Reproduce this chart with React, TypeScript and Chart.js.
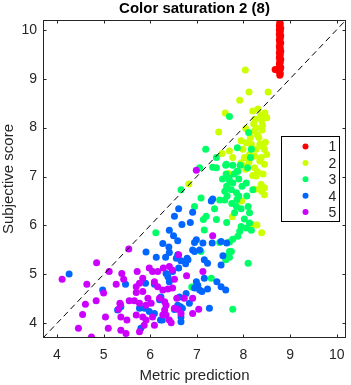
import React, { useEffect, useRef } from 'react';
import { Chart, registerables } from 'chart.js';

Chart.register(...registerables);

const TITLE = 'Color saturation 2 (8)';
const X_LABEL = 'Metric prediction';
const Y_LABEL = 'Subjective score';
const TICK_VALUES = [4, 5, 6, 7, 8, 9, 10];
const AXIS_MIN = 3.7;
const AXIS_MAX = 10.2;
const SERIES_NAMES = ['1', '2', '3', '4', '5'];
const SERIES_COLORS = ['#ff0000', '#ccff00', '#00ff66', '#0066ff', '#cc00ff'];
const DIAGONAL = [[3.7, 3.7], [10.2, 10.2]];

const SERIES_1 = [
  [8.78, 10.15], [8.79, 10.12], [8.77, 10.09], [8.78, 10.06], [8.8, 10.03], [8.77, 10.0], [8.79, 9.97],
  [8.78, 9.94], [8.77, 9.91], [8.8, 9.88], [8.78, 9.85], [8.79, 9.82], [8.77, 9.79], [8.78, 9.76],
  [8.8, 9.73], [8.78, 9.7], [8.77, 9.66], [8.79, 9.63], [8.78, 9.6], [8.8, 9.56], [8.77, 9.53],
  [8.79, 9.5], [8.78, 9.46], [8.77, 9.43], [8.8, 9.4], [8.78, 9.36], [8.79, 9.33], [8.77, 9.3],
  [8.78, 9.26], [8.8, 9.23], [8.79, 9.2], [8.77, 9.17], [8.68, 9.19], [8.72, 9.18], [8.78, 9.13],
  [8.79, 9.1], [8.78, 9.07],
];

const SERIES_2 = [
  [8.04, 9.18], [8.12, 8.73], [8.53, 8.73], [7.92, 8.56], [7.61, 8.3], [8.2, 8.34], [8.31, 8.38],
  [8.46, 8.3], [8.37, 8.25], [8.25, 8.17], [8.39, 8.15], [8.22, 8.08], [8.41, 8.05], [8.27, 8.0],
  [8.4, 7.95], [8.24, 7.93], [8.05, 7.98], [7.47, 7.91], [7.95, 7.73], [8.06, 7.69], [8.17, 7.66],
  [8.35, 7.66], [8.42, 7.61], [8.47, 7.7], [7.99, 7.56], [8.27, 7.56], [8.45, 7.56], [8.13, 7.45],
  [8.24, 7.42], [8.02, 7.39], [8.38, 7.39], [8.5, 7.45], [7.95, 7.28], [8.35, 7.32], [8.06, 7.21],
  [8.24, 7.18], [8.45, 7.25], [7.54, 7.47], [7.7, 7.52], [7.77, 7.39], [8.12, 7.3], [8.3, 7.1],
  [8.05, 7.15], [8.42, 7.05], [7.68, 7.06], [8.27, 7.01], [8.2, 7.02], [8.38, 6.84], [8.35, 6.75],
  [8.45, 6.63], [8.39, 6.7], [8.45, 6.77], [8.24, 6.74], [7.96, 6.5], [7.92, 6.51], [7.76, 6.18],
  [8.29, 6.01], [8.18, 6.02], [8.39, 5.85], [6.83, 6.85], [8.3, 7.85], [8.5, 8.2], [8.15, 7.8],
  [8.33, 7.8],
];

const SERIES_3 = [
  [7.7, 8.23], [8.11, 7.9], [7.19, 7.56], [7.87, 7.59], [8.17, 7.56], [7.42, 7.39], [8.15, 7.39],
  [7.34, 7.19], [7.62, 7.23], [7.77, 7.23], [7.93, 7.23], [8.09, 7.18], [7.06, 7.18], [7.86, 7.11],
  [7.69, 6.97], [7.77, 6.87], [7.64, 6.8], [7.74, 6.73], [7.6, 6.7], [7.85, 6.67], [7.97, 6.8],
  [8.06, 6.87], [8.07, 6.6], [8.2, 6.73], [7.86, 6.53], [7.49, 6.52], [7.6, 6.52], [7.38, 6.34],
  [7.85, 6.39], [7.95, 6.34], [7.81, 6.26], [8.1, 6.39], [8.13, 6.26], [7.2, 6.19], [7.42, 6.12],
  [7.64, 6.06], [8.02, 6.13], [8.13, 6.05], [7.95, 5.98], [8.06, 5.95], [7.92, 5.88], [7.88, 5.78],
  [8.17, 5.9], [7.16, 5.91], [7.77, 5.72], [7.7, 5.66], [7.49, 5.65], [7.7, 5.47], [7.63, 5.37],
  [7.09, 5.47], [7.74, 5.47], [7.62, 5.3], [7.7, 5.35], [8.1, 5.23], [7.31, 4.92], [6.89, 4.74],
  [7.77, 4.29], [6.66, 6.73], [7.09, 6.56], [6.95, 6.39], [6.12, 5.85], [7.14, 6.12], [7.42, 7.18],
  [7.63, 7.25], [7.88, 7.11], [7.63, 7.05], [7.7, 6.92], [7.55, 6.95], [7.8, 7.05], [7.9, 6.95],
  [7.65, 6.6], [7.9, 6.6], [7.75, 6.45],
];

const SERIES_4 = [
  [7.34, 6.54], [7.31, 6.5], [6.61, 6.34], [6.91, 6.27], [6.52, 6.19], [6.86, 6.06], [6.68, 6.02],
  [6.41, 5.9], [6.5, 5.79], [6.59, 5.69], [6.27, 5.63], [6.4, 5.56], [6.13, 5.35], [6.33, 5.35],
  [6.95, 5.65], [6.99, 5.71], [7.13, 5.64], [7.33, 5.64], [7.52, 5.67], [7.64, 5.64], [6.91, 5.5],
  [7.06, 5.5], [6.79, 5.33], [6.56, 5.33], [6.41, 5.45], [6.59, 5.4], [6.95, 5.47], [6.66, 5.28],
  [6.81, 5.3], [6.76, 5.22], [7.16, 5.3], [7.23, 5.23], [7.52, 5.19], [7.56, 5.38], [6.34, 5.02],
  [6.38, 4.95], [6.41, 4.85], [6.48, 5.06], [6.61, 5.13], [6.99, 4.85], [7.02, 4.78], [6.95, 4.72],
  [7.06, 4.68], [7.16, 4.92], [7.11, 4.65], [7.23, 4.7], [7.43, 4.85], [7.52, 4.75], [7.62, 4.68],
  [6.77, 4.61], [6.63, 4.54], [6.84, 4.41], [6.69, 4.31], [7.27, 4.31], [6.26, 4.07], [6.66, 4.03],
  [6.66, 4.13], [6.52, 4.28], [6.59, 4.37], [6.23, 4.54], [6.2, 4.48], [4.26, 5.01], [5.91, 5.46],
  [5.47, 4.8], [4.98, 4.68], [5.9, 4.82], [6.09, 4.8], [5.3, 4.27], [5.37, 4.34], [5.77, 4.31],
  [5.88, 4.31], [5.98, 4.24], [6.09, 4.2], [5.8, 3.9], [6.22, 4.07], [6.65, 4.34],
];

const SERIES_5 = [
  [6.99, 7.13], [7.34, 5.79], [5.54, 5.52], [4.85, 5.24], [4.11, 4.9], [5.12, 5.06], [5.39, 5.02],
  [5.72, 5.06], [5.43, 4.9], [4.64, 4.8], [5.27, 4.8], [5.98, 5.13], [6.16, 5.06], [5.84, 4.92],
  [5.77, 4.82], [6.09, 4.85], [6.16, 4.75], [5.7, 4.63], [5.84, 4.65], [4.84, 4.46], [4.61, 4.39],
  [5.55, 4.46], [5.66, 4.46], [5.77, 4.41], [5.91, 4.37], [5.36, 4.39], [5.95, 4.51], [4.55, 4.18],
  [5.04, 4.13], [5.37, 4.13], [5.5, 4.07], [5.7, 4.17], [5.84, 4.13], [5.91, 4.07], [5.87, 3.96],
  [6.05, 4.13], [6.09, 3.96], [4.46, 3.9], [5.1, 3.9], [5.37, 3.86], [5.48, 3.79], [4.74, 3.72],
  [5.77, 3.83], [6.61, 5.4], [6.28, 5.13], [6.41, 5.16], [6.47, 5.09], [6.05, 5.06], [6.78, 4.97],
  [6.52, 4.9], [7.13, 5.06], [6.27, 4.68], [6.38, 4.7], [6.48, 4.72], [6.2, 4.51], [6.57, 4.51],
  [6.73, 4.51], [6.91, 4.51], [6.31, 4.44], [6.34, 4.37], [6.02, 4.41], [6.52, 4.31], [6.59, 4.29],
  [7.04, 4.29], [6.31, 4.27], [6.27, 4.17], [6.34, 4.17], [6.66, 4.2], [6.91, 4.2], [6.41, 4.07],
  [6.45, 4.01], [5.0, 4.62], [5.35, 4.41], [5.32, 4.29], [5.7, 4.75],
];

const ALL_SERIES = [SERIES_1, SERIES_2, SERIES_3, SERIES_4, SERIES_5];

const AXIS_COLOR = '#262626';
const FONT = "'Liberation Sans', Arial, sans-serif";

const framePlugin = {
  id: 'matlabFrame',
  afterDatasetsDraw(chart: any) {
    const { ctx, chartArea: a, scales } = chart;
    ctx.save();
    ctx.strokeStyle = AXIS_COLOR;
    ctx.lineWidth = 1;
    const L = Math.round(a.left) + 0.5;
    const R = Math.round(a.right) - 0.5;
    const T = Math.round(a.top) + 0.5;
    const B = Math.round(a.bottom) - 0.5;
    ctx.strokeRect(L, T, R - L, B - T);
    const len = 3;
    ctx.beginPath();
    for (const v of TICK_VALUES) {
      const x = Math.round(scales.x.getPixelForValue(v)) + 0.5;
      ctx.moveTo(x, B); ctx.lineTo(x, B - len);
      ctx.moveTo(x, T); ctx.lineTo(x, T + len);
      const y = Math.round(scales.y.getPixelForValue(v)) + 0.5;
      ctx.moveTo(L, y); ctx.lineTo(L + len, y);
      ctx.moveTo(R, y); ctx.lineTo(R - len, y);
    }
    ctx.stroke();

    // legend box inside the axes
    const boxW = 58;
    const boxH = 85;
    const bx = Math.round(a.right - 7 - boxW) + 0.5;
    const by = Math.round(a.top + 116) + 0.5;
    ctx.fillStyle = '#ffffff';
    ctx.fillRect(bx, by, boxW, boxH);
    ctx.strokeStyle = '#000000';
    ctx.strokeRect(bx, by, boxW, boxH);
    ctx.font = `14px ${FONT}`;
    ctx.textBaseline = 'middle';
    ctx.textAlign = 'left';
    SERIES_NAMES.forEach((name, i) => {
      const cy = by + 10 + i * 16.4;
      ctx.fillStyle = SERIES_COLORS[i];
      ctx.beginPath();
      ctx.arc(bx + 24, cy, 3, 0, Math.PI * 2);
      ctx.fill();
      ctx.fillStyle = AXIS_COLOR;
      ctx.fillText(name, bx + 47, cy + 1);
    });
    ctx.restore();
  },
};

function App() {
  const canvasRef = useRef<HTMLCanvasElement | null>(null);

  useEffect(() => {
    document.body.style.margin = '0';
    const canvas = canvasRef.current;
    if (!canvas) return;

    const toPts = (arr: number[][]) => arr.map(([x, y]) => ({ x, y }));

    const datasets: any[] = ALL_SERIES.map((s, i) => ({
      type: 'scatter',
      label: SERIES_NAMES[i],
      data: toPts(s),
      backgroundColor: SERIES_COLORS[i],
      borderWidth: 0,
      pointRadius: 3.5,
      pointHoverRadius: 3.5,
      order: 10 - i,
    }));
    datasets.push({
      type: 'line',
      label: 'diag',
      data: toPts(DIAGONAL),
      borderColor: '#000000',
      borderWidth: 1,
      borderDash: [6, 4],
      pointRadius: 0,
      fill: false,
      order: 0,
    });

    const tickFix = (scale: any) => {
      scale.ticks = TICK_VALUES.map((v) => ({ value: v }));
    };

    const chart = new Chart(canvas, {
      type: 'scatter',
      data: { datasets },
      plugins: [framePlugin],
      options: {
        animation: false,
        responsive: false,
        devicePixelRatio: 1,
        layout: { padding: { left: 0, right: 5, top: 0, bottom: 0 } },
        plugins: {
          legend: { display: false },
          tooltip: { enabled: false },
          title: {
            display: true,
            text: TITLE,
            fullSize: false,
            color: '#000000',
            font: { family: FONT, size: 15, weight: 'bold' },
            padding: { top: 0, bottom: 2 },
          },
        },
        scales: {
          x: {
            type: 'linear',
            min: AXIS_MIN,
            max: AXIS_MAX,
            afterBuildTicks: tickFix,
            afterFit: (s: any) => { s.height = 47; s.paddingLeft = 0; s.paddingRight = 0; },
            grid: { drawOnChartArea: false, drawTicks: false },
            border: { display: false },
            ticks: { color: AXIS_COLOR, padding: 9, font: { family: FONT, size: 14 } },
            title: {
              display: true,
              text: X_LABEL,
              color: AXIS_COLOR,
              font: { family: FONT, size: 15 },
              padding: { top: 0, bottom: 0 },
            },
          },
          y: {
            type: 'linear',
            min: AXIS_MIN,
            max: AXIS_MAX,
            afterBuildTicks: tickFix,
            afterFit: (s: any) => { s.width = 43; s.paddingTop = 0; s.paddingBottom = 0; },
            grid: { drawOnChartArea: false, drawTicks: false },
            border: { display: false },
            ticks: { color: AXIS_COLOR, padding: 6, font: { family: FONT, size: 14 } },
            title: {
              display: true,
              text: Y_LABEL,
              color: AXIS_COLOR,
              font: { family: FONT, size: 15 },
              padding: { top: 0, bottom: 0 },
            },
          },
        },
      } as any,
    });

    return () => chart.destroy();
  }, []);

  return (
    <div style={{ width: 351, height: 385, background: '#ffffff' }}>
      <canvas ref={canvasRef} width={351} height={385} style={{ display: 'block' }} />
    </div>
  );
}

export default App;
